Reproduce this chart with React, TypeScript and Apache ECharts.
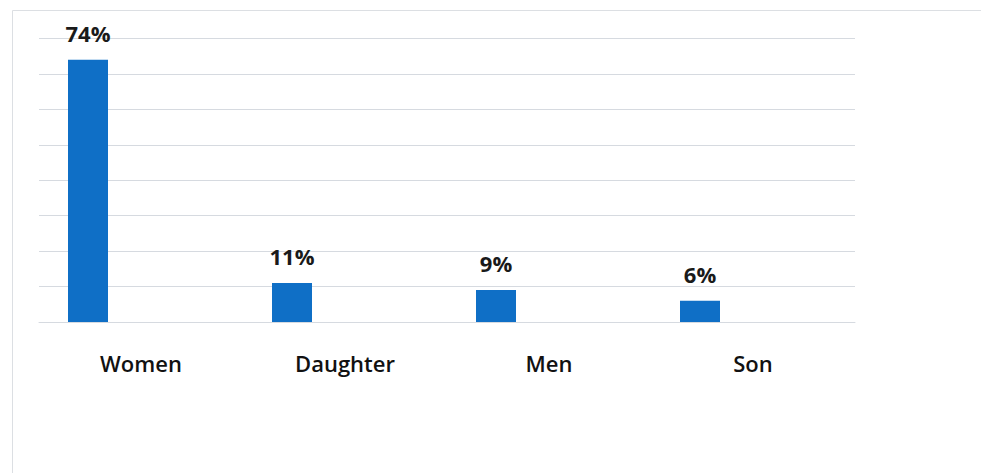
import React, { useEffect, useRef } from "react";
import * as echarts from "echarts";

const categories = ["Women", "Daughter", "Men", "Son"];
const shares = [74, 11, 9, 6];
// empty companion series keeps the bars in the left slot of each category
const blankSeries = [null, null, null, null];
const yTicks = { min: 0, max: 80, interval: 10 };

export default function App() {
  const ref = useRef<HTMLDivElement>(null);

  useEffect(() => {
    document.body.style.margin = "0";
    const chart = echarts.init(ref.current!, null, { renderer: "svg" });
    chart.setOption({
      animation: false,
      backgroundColor: "#ffffff",
      textStyle: { fontFamily: "Open Sans" },
      graphic: [
        {
          type: "rect",
          shape: { x: 12.5, y: 10.5, width: 1000, height: 500 },
          style: { fill: "none", stroke: "#dcdfe3", lineWidth: 1 },
          silent: true,
        },
      ],
      grid: { left: 39, right: 126, top: 38.5, bottom: 151 },
      xAxis: {
        type: "category",
        data: categories,
        axisTick: { show: false },
        axisLine: { show: true, lineStyle: { color: "#d6dae0", width: 1 } },
        axisLabel: {
          margin: 30,
          fontSize: 22,
          fontWeight: 600,
          color: "#111111",
          fontFamily: "Open Sans",
        },
      },
      yAxis: {
        type: "value",
        min: yTicks.min,
        max: yTicks.max,
        interval: yTicks.interval,
        axisLabel: { show: false },
        axisLine: { show: false },
        axisTick: { show: false },
        splitLine: { lineStyle: { color: "#d6dae0", width: 1 } },
      },
      series: [
        {
          type: "bar",
          data: shares,
          barWidth: 40,
          barGap: "165%",
          itemStyle: { color: "#0f6fc6" },
          label: {
            show: true,
            position: "top",
            distance: 16,
            formatter: "{c}%",
            fontSize: 22,
            fontWeight: "bold",
            color: "#1a1a1a",
            fontFamily: "Open Sans",
          },
        },
        {
          type: "bar",
          data: blankSeries,
          barWidth: 40,
          itemStyle: { color: "transparent" },
          silent: true,
        },
      ],
    });
    return () => chart.dispose();
  }, []);

  return <div ref={ref} style={{ width: 981, height: 473 }} />;
}
